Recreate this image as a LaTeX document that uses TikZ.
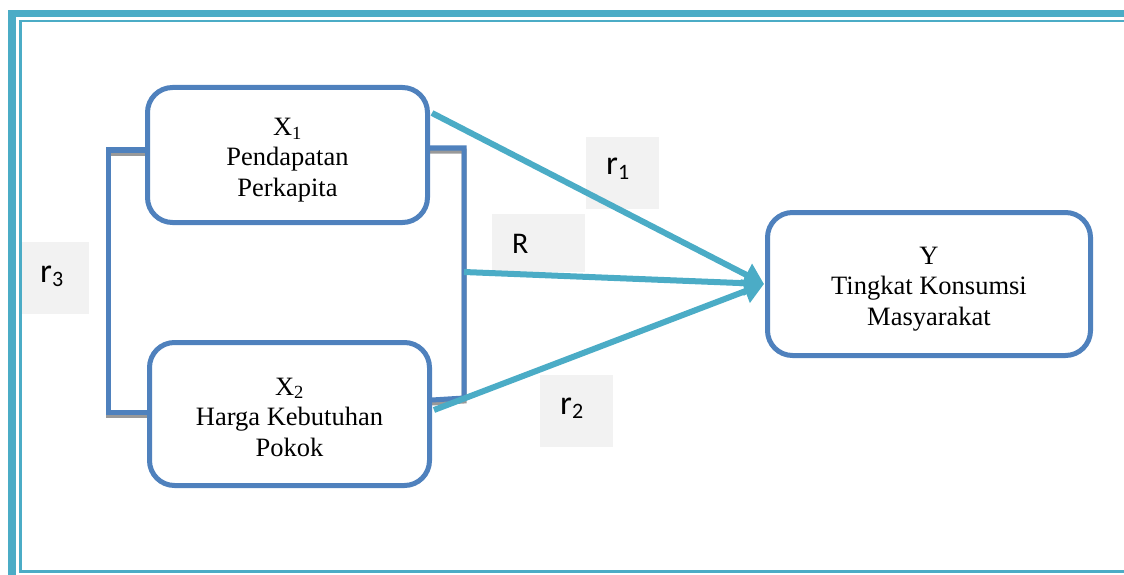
\documentclass[tikz,border=0pt]{standalone}
\usepackage{fontspec}
\setmainfont{Liberation Serif}
\newfontfamily\lblfont{Carlito}
\usetikzlibrary{arrows.meta,calc}
\definecolor{teal}{HTML}{4BACC6}
\definecolor{boxblue}{HTML}{4F81BD}
\definecolor{lblgray}{HTML}{F2F2F2}
\tikzset{
  varbox/.style={draw=boxblue, line width=5pt, rounded corners=25pt, fill=white, inner sep=0pt},
  vartext/.style={align=center, font=\fontsize{26.5}{30.5}\selectfont, inner sep=0pt},
  lblbox/.style={fill=lblgray, inner sep=0pt},
  lbltext/.style={font=\lblfont\fontsize{34}{36}\selectfont, inner sep=0pt, anchor=base west},
  bracket/.style={draw=boxblue, line width=5pt},
  bracketshadow/.style={draw=gray!80, line width=5pt},
  relarrow/.style={draw=teal, line width=6pt, -{Triangle[length=20pt,width=24pt]}},
  frameline/.style={draw=teal}
}
\newcommand{\sub}[1]{\raisebox{-0.3ex}{\fontsize{22}{24}\selectfont #1}}
\begin{document}
\begin{tikzpicture}[x=1pt,y=-1pt]
\useasboundingbox (0,0) rectangle (1124,575);
% frame
\draw[frameline, line width=7.5pt] (12,575) -- (12,13.5) -- (1124,13.5);
\draw[frameline, line width=2.5pt] (1124,21) -- (20.5,21) -- (20.5,571.5) -- (1124,571.5);
% brackets (shadow then line)
\coordinate (lb1) at (146,150);
\coordinate (lb2) at (148,412);
\coordinate (rb1) at (430,148);
\coordinate (rb2) at (432,400);
\draw[bracketshadow] ($(lb1)+(0,3)$) -- (108,153) -- (108,415) -- ($(lb2)+(0,3)$);
\draw[bracketshadow] ($(rb1)+(0,3)$) -- (464,151) -- (464,401) -- ($(rb2)+(0,3)$);
\draw[bracket] (lb1) -- (108,150) -- (108,412) -- (lb2);
\draw[bracket] (rb1) -- (464,148) -- (464,398) -- (rb2);
% boxes
\node[varbox, minimum width=280pt, minimum height=135pt] (X1) at (287.5,155) {};
\node[varbox, minimum width=280pt, minimum height=143pt] (X2) at (289.5,414) {};
\node[varbox, minimum width=323pt, minimum height=143pt] (Y) at (929,284) {};
\node[vartext] (X1t) at ($(X1.center)+(0,5)$) {X\textsubscript{1}\\Pendapatan\\Perkapita};
\node[vartext] (X2t) at ($(X2.center)+(0,3)$) {X\textsubscript{2}\\Harga Kebutuhan\\Pokok};
\node[vartext] (Yt) at ($(Y.center)+(0,5)$) {Y\\Tingkat Konsumsi\\Masyarakat};
% label boxes
\node[lblbox, minimum width=73pt, minimum height=72pt] (r1box) at (622.5,173) {};
\node[lblbox, minimum width=93pt, minimum height=58pt] (Rbox) at (538.5,243) {};
\node[lblbox, minimum width=67pt, minimum height=72pt] (r3box) at (55.5,278) {};
\node[lblbox, minimum width=73pt, minimum height=72pt] (r2box) at (576.5,411) {};
\node[lbltext] (r1) at (606,175) {r\sub{1}};
\node[lbltext, font=\lblfont\fontsize{30}{32}\selectfont] (Rl) at (512,253) {R};
\node[lbltext] (r3) at (40,282) {r\sub{3}};
\node[lbltext] (r2) at (560,414) {r\sub{2}};
% arrows
\coordinate (a1) at (432,113);
\coordinate (a2) at (464,272);
\coordinate (a3) at (434,410);
\coordinate (tip) at ($(Y.west)+(-1,0)$);
\draw[relarrow] (a1) -- (tip);
\draw[relarrow] (a2) -- (tip);
\draw[relarrow] (a3) -- (tip);
\end{tikzpicture}
\end{document}
